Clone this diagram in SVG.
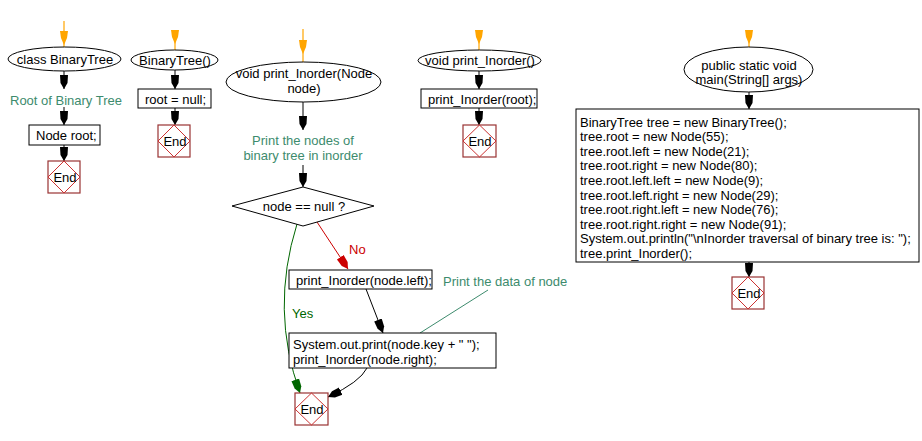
<svg xmlns="http://www.w3.org/2000/svg" width="922" height="441" viewBox="0 0 922 441">
<style>
text{font-family:"Liberation Sans",Arial,sans-serif;font-size:13px;fill:#000}
.c{text-anchor:middle}
.note{fill:#3d8b6d}
.shape{fill:#fff;stroke:#000;stroke-width:1}
.endbox{fill:#fff;stroke:#993333;stroke-width:1.2}
.enddia{fill:none;stroke:#cc3333;stroke-width:1}
.ln{fill:none;stroke:#000;stroke-width:1}
.orange{fill:none;stroke:#ffa500;stroke-width:1.2}
.ohead{fill:#ffa500}
</style>
<defs>
<marker id="ab" markerUnits="userSpaceOnUse" markerWidth="16" markerHeight="10" refX="14" refY="5" orient="auto" viewBox="0 0 16 10"><path d="M0,1 L8,1.5 L14,5 L8,8.5 L0,9 z" fill="#000"/></marker>
<marker id="ar" markerUnits="userSpaceOnUse" markerWidth="16" markerHeight="10" refX="14" refY="5" orient="auto" viewBox="0 0 16 10"><path d="M0,1 L8,1.5 L14,5 L8,8.5 L0,9 z" fill="#cc0000"/></marker>
<marker id="ag" markerUnits="userSpaceOnUse" markerWidth="16" markerHeight="10" refX="14" refY="5" orient="auto" viewBox="0 0 16 10"><path d="M0,1 L8,1.5 L14,5 L8,8.5 L0,9 z" fill="#006600"/></marker>
</defs>
<rect width="922" height="441" fill="#fff"/>

<g id="connectors">
  <line class="orange" x1="64" y1="21" x2="64" y2="47"/>
  <polygon class="ohead" points="60,31 68,31 67,38 64,45 61,38"/>
  <line class="orange" x1="175" y1="30" x2="175" y2="50"/>
  <polygon class="ohead" points="171,30 179,30 178,37 175,44 172,37"/>
  <line class="orange" x1="303" y1="29" x2="303" y2="62"/>
  <polygon class="ohead" points="299,40 307,40 306,47 303,54 300,47"/>
  <line class="orange" x1="479" y1="30" x2="479" y2="50"/>
  <polygon class="ohead" points="475,30 483,30 482,37 479,44 476,37"/>
  <line class="orange" x1="749" y1="30" x2="749" y2="47"/>
  <polygon class="ohead" points="745,30 753,30 752,37 749,44 746,37"/>

  <line class="ln" x1="64" y1="71" x2="64" y2="89" marker-end="url(#ab)"/>
  <line class="ln" x1="64" y1="107" x2="64" y2="125" marker-end="url(#ab)"/>
  <line class="ln" x1="64" y1="145" x2="64" y2="161" marker-end="url(#ab)"/>
  <line class="ln" x1="175" y1="70" x2="175" y2="89" marker-end="url(#ab)"/>
  <line class="ln" x1="175" y1="108" x2="175" y2="125" marker-end="url(#ab)"/>
  <line class="ln" x1="303" y1="102" x2="303" y2="130" marker-end="url(#ab)"/>
  <line class="ln" x1="303" y1="165" x2="303" y2="187" marker-end="url(#ab)"/>
  <line x1="317" y1="222" x2="348" y2="269" stroke="#cc0000" stroke-width="1" marker-end="url(#ar)"/>
  <path d="M297,224 Q270,310 300,393" fill="none" stroke="#006600" stroke-width="1" marker-end="url(#ag)"/>
  <line class="ln" x1="366" y1="289" x2="383" y2="333" marker-end="url(#ab)"/>
  <path class="ln" d="M367,368 Q360,382 328,397" marker-end="url(#ab)"/>
  <line x1="420" y1="333" x2="488" y2="290" stroke="#3d8b6d" stroke-width="1"/>
  <line class="ln" x1="479" y1="71" x2="479" y2="89" marker-end="url(#ab)"/>
  <line class="ln" x1="479" y1="108" x2="479" y2="125" marker-end="url(#ab)"/>
  <line class="ln" x1="749" y1="92" x2="749" y2="109" marker-end="url(#ab)"/>
  <line class="ln" x1="749" y1="262" x2="749" y2="277" marker-end="url(#ab)"/>
</g>

<g id="n-class">
  <ellipse class="shape" cx="64.5" cy="59" rx="56.5" ry="12"/>
  <text class="c" x="65" y="63.5">class BinaryTree</text>
</g>
<g id="n-root-note">
  <text class="c note" x="66" y="104.5">Root of Binary Tree</text>
</g>
<g id="n-noderoot">
  <rect class="shape" x="29" y="125" width="71" height="20"/>
  <text x="36" y="140">Node root;</text>
</g>
<g id="n-end1">
  <rect class="endbox" x="48" y="161" width="32" height="32"/>
  <polygon class="enddia" points="64,161 80,177 64,193 48,177"/>
  <text class="c" x="65" y="182">End</text>
</g>

<g id="n-ctor">
  <ellipse class="shape" cx="174.5" cy="60" rx="43.5" ry="10"/>
  <text class="c" x="175" y="64.5">BinaryTree()</text>
</g>
<g id="n-rootnull">
  <rect class="shape" x="138" y="89" width="73" height="19"/>
  <text x="145" y="103.5">root = null;</text>
</g>
<g id="n-end2">
  <rect class="endbox" x="158" y="125" width="32" height="32"/>
  <polygon class="enddia" points="174,125 190,141 174,157 158,141"/>
  <text class="c" x="175" y="146">End</text>
</g>

<g id="n-inorder-node">
  <ellipse class="shape" cx="303.5" cy="82" rx="77.5" ry="20"/>
  <text class="c" x="304" y="78">void print_Inorder(Node</text>
  <text class="c" x="304" y="93">node)</text>
</g>
<g id="n-print-note">
  <text class="c note" x="303" y="145">Print the nodes of</text>
  <text class="c note" x="303" y="159.5">binary tree in inorder</text>
</g>
<g id="n-cond">
  <polygon class="shape" points="303,187 374,206 303,226 232,206"/>
  <text class="c" x="304" y="211">node == null ?</text>
</g>
<g id="n-left">
  <rect class="shape" x="289" y="270" width="143" height="19"/>
  <text x="296" y="284.5">print_Inorder(node.left);</text>
</g>
<g id="n-data-note">
  <text class="note" x="443" y="285.5">Print the data of node</text>
</g>
<g id="n-right">
  <rect class="shape" x="289" y="333" width="207" height="35"/>
  <text x="293" y="349">System.out.print(node.key + " ");</text>
  <text x="293" y="364">print_Inorder(node.right);</text>
</g>
<g id="n-end3">
  <rect class="endbox" x="295" y="393" width="33" height="32"/>
  <polygon class="enddia" points="311.5,393 328,409 311.5,425 295,409"/>
  <text class="c" x="312" y="414">End</text>
</g>
<g id="labels3">
  <text x="349" y="254" style="fill:#cc0000">No</text>
  <text x="292" y="318" style="fill:#006600">Yes</text>
</g>

<g id="n-inorder">
  <ellipse class="shape" cx="479.5" cy="60.5" rx="61.5" ry="10.5"/>
  <text class="c" x="480" y="65">void print_Inorder()</text>
</g>
<g id="n-callroot">
  <rect class="shape" x="421" y="89" width="116" height="19"/>
  <text x="428" y="103.5">print_Inorder(root);</text>
</g>
<g id="n-end4">
  <rect class="endbox" x="463" y="125" width="33" height="32"/>
  <polygon class="enddia" points="479.5,125 496,141 479.5,157 463,141"/>
  <text class="c" x="480" y="146">End</text>
</g>

<g id="n-main">
  <ellipse class="shape" cx="748.5" cy="69.5" rx="64.5" ry="22.5"/>
  <text class="c" x="749" y="69.5">public static void</text>
  <text class="c" x="749" y="83.5">main(String[] args)</text>
</g>
<g id="n-mainbody">
  <rect class="shape" x="576" y="109" width="343" height="153"/>
  <text x="580" y="126.5">BinaryTree tree = new BinaryTree();</text>
  <text x="580" y="141.1">tree.root = new Node(55);</text>
  <text x="580" y="155.7">tree.root.left = new Node(21);</text>
  <text x="580" y="170.3">tree.root.right = new Node(80);</text>
  <text x="580" y="184.9">tree.root.left.left = new Node(9);</text>
  <text x="580" y="199.5">tree.root.left.right = new Node(29);</text>
  <text x="580" y="214.1">tree.root.right.left = new Node(76);</text>
  <text x="580" y="228.7">tree.root.right.right = new Node(91);</text>
  <text x="580" y="243.3">System.out.println("\nInorder traversal of binary tree is: ");</text>
  <text x="580" y="257.9">tree.print_Inorder();</text>
</g>
<g id="n-end5">
  <rect class="endbox" x="732" y="277" width="32" height="32"/>
  <polygon class="enddia" points="748,277 764,293 748,309 732,293"/>
  <text class="c" x="749" y="298">End</text>
</g>
</svg>
